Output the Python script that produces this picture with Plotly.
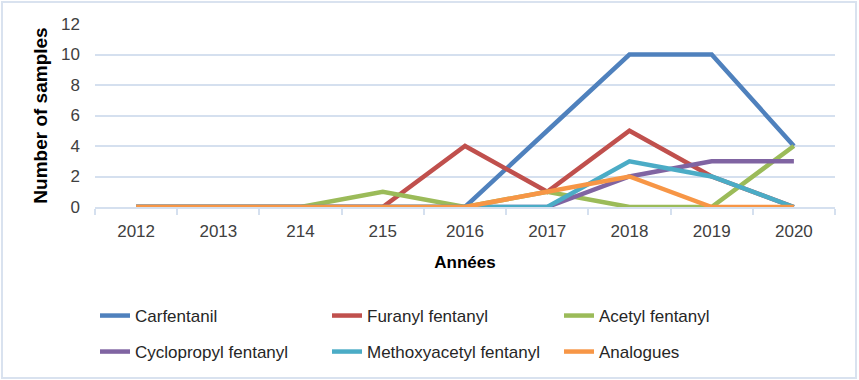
import plotly.graph_objects as go

years = ["2012", "2013", "214", "215", "2016", "2017", "2018", "2019", "2020"]
carfentanil = [0, 0, 0, 0, 0, 5, 10, 10, 4]
furanyl = [0, 0, 0, 0, 4, 1, 5, 2, 0]
acetyl = [0, 0, 0, 1, 0, 1, 0, 0, 4]
cyclopropyl = [0, 0, 0, 0, 0, 0, 2, 3, 3]
methoxyacetyl = [0, 0, 0, 0, 0, 0, 3, 2, 0]
analogues = [0, 0, 0, 0, 0, 1, 2, 0, 0]

series = [
    ("Carfentanil", carfentanil, "#4F81BD", "legend"),
    ("Furanyl fentanyl", furanyl, "#C0504D", "legend"),
    ("Acetyl fentanyl", acetyl, "#9BBB59", "legend"),
    ("Cyclopropyl fentanyl", cyclopropyl, "#8064A2", "legend2"),
    ("Methoxyacetyl fentanyl", methoxyacetyl, "#4BACC6", "legend2"),
    ("Analogues", analogues, "#F79646", "legend2"),
]

FONT = "Liberation Sans, Arial, sans-serif"
GRID = "#D5E0EF"

fig = go.Figure()
for name, vals, color, lg in series:
    fig.add_trace(go.Scatter(
        x=years, y=vals, mode="lines", name=name, legend=lg,
        line=dict(color=color, width=4.5),
    ))

W, H = 859, 380
L, R, T, B = 95, 24, 24, 173

def px2x(px):
    return (px - L) / (W - L - R)

def py2y(py):
    return (H - B - py) / (H - T - B)

legend_common = dict(
    orientation="h", xref="container", yref="container",
    xanchor="left", yanchor="middle",
    entrywidth=187, entrywidthmode="pixels",
    font=dict(family=FONT, size=17, color="#262626"),
    bgcolor="rgba(0,0,0,0)", itemwidth=30,
    traceorder="normal",
)

fig.update_layout(
    width=W, height=H,
    margin=dict(l=L, r=R, t=T, b=B, autoexpand=False),
    paper_bgcolor="white", plot_bgcolor="white",
    font=dict(family=FONT, size=17, color="#404040"),
    showlegend=True,
    legend=dict(x=95 / W, y=1 - 316 / H, **legend_common),
    legend2=dict(x=95 / W, y=1 - 352 / H, **legend_common),
    xaxis=dict(
        type="category", categoryorder="array", categoryarray=years,
        showgrid=False, showline=True, linecolor=GRID, linewidth=2,
        ticks="outside", tickson="boundaries", ticklen=6, tickcolor=GRID, tickwidth=2,
        tickfont=dict(family=FONT, size=17, color="#404040"),
        ticklabelstandoff=8,
        title=dict(text="<b>Années</b>", font=dict(family=FONT, size=17, color="#000000"), standoff=16),
        range=[-0.5, 8.5], zeroline=False,
    ),
    yaxis=dict(
        range=[0, 12], dtick=2, showgrid=True, gridcolor=GRID, gridwidth=2,
        zeroline=False, showline=False, ticks="",
        tickfont=dict(family=FONT, size=17, color="#404040"),
        ticklabelstandoff=14,
        title=dict(text="<b>Number of samples</b>", font=dict(family=FONT, size=19, color="#000000"), standoff=8),
    ),
    shapes=[dict(
        type="rect", xref="paper", yref="paper",
        x0=px2x(2), x1=px2x(856), y0=py2y(378), y1=py2y(2),
        line=dict(color="#D9E2EF", width=2), fillcolor="rgba(0,0,0,0)", layer="below",
    )],
)

fig.write_html("out.html", config={"displayModeBar": False},
               post_script="document.body.style.margin='0';")
